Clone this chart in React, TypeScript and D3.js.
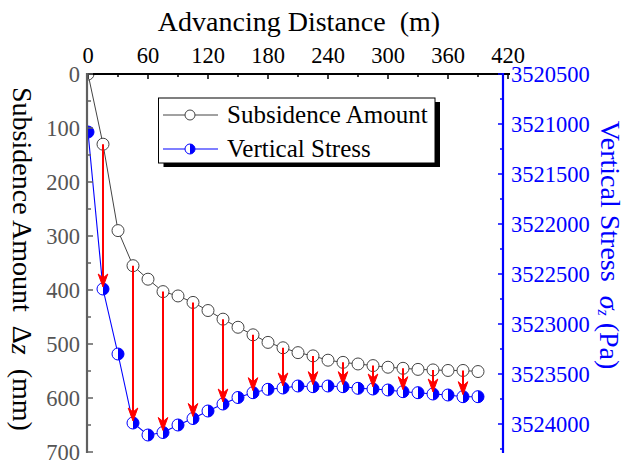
import React from "react";
import * as d3 from "d3";

const distance = [0, 15, 30, 45, 60, 75, 90, 105, 120, 135, 150, 165, 180, 195, 210, 225, 240, 255, 270, 285, 300, 315, 330, 345, 360, 375, 390];
const subsidence = [0, 130, 290, 355, 380, 403, 411, 423, 438, 454, 469, 483, 497, 507, 516, 522, 530, 534, 537, 540, 543, 545, 547, 548, 549, 549, 551];
const stress = [3521080, 3522650, 3523300, 3523990, 3524110, 3524085, 3524010, 3523945, 3523870, 3523800, 3523735, 3523687, 3523653, 3523640, 3523620, 3523627, 3523620, 3523627, 3523643, 3523650, 3523660, 3523677, 3523687, 3523700, 3523710, 3523727, 3523727];
const arrowDistances = [15, 45, 75, 105, 135, 165, 195, 225, 255, 285, 315, 345, 375];
const xTicks = [0, 60, 120, 180, 240, 300, 360, 420];
const leftTicks = [0, 100, 200, 300, 400, 500, 600, 700];
const rightTicks = [3520500, 3521000, 3521500, 3522000, 3522500, 3523000, 3523500, 3524000];
const seriesNames = ["Subsidence Amount", "Vertical Stress"];

const FONT = "'Liberation Serif', 'Times New Roman', serif";
const W = 627;
const H = 462;
const L = 88, R = 508, T = 74, B = 452;
const RIGHT_AXIS_X = 503;

export default function App() {
  const x = d3.scaleLinear().domain([0, 420]).range([L, R]);
  const yL = d3.scaleLinear().domain([0, 700]).range([T, B]);
  const yR = d3.scaleLinear().domain([3520500, 3524280]).range([T, B]);

  const subPts: [number, number][] = distance.map((d, i) => [x(d), yL(subsidence[i])]);
  const strPts: [number, number][] = distance.map((d, i) => [x(d), yR(stress[i])]);
  const line = d3.line();

  const r = 6;
  const halfPath = (cx: number, cy: number, rr: number) =>
    `M${cx},${cy - rr}A${rr},${rr} 0 0 1 ${cx},${cy + rr}Z`;

  const xMinor = d3.range(30, 420, 60);
  const leftMinor = d3.range(50, 700, 100);
  const rightMinor = d3.range(3520750, 3524280, 500);

  const legendX = 158.5, legendY = 98, legendW = 276.5, legendH = 65;

  return (
    <svg width={W} height={H} style={{ position: "absolute", left: 0, top: 0, display: "block", background: "#fff" }} fontFamily={FONT}>
      <defs>
        <clipPath id="plotclip">
          <rect x={L} y={T} width={R - L} height={B - T} />
        </clipPath>
      </defs>
      <rect x={0} y={0} width={W} height={H} fill="#fff" />

      {/* Title */}
      <text x={299} y={31} textAnchor="middle" fontSize={28} fill="#000">
        Advancing Distance{"\u00a0\u00a0"}(m)
      </text>

      {/* series lines */}
      <g clipPath="url(#plotclip)">
        <path d={line(subPts) || ""} fill="none" stroke="#444" strokeWidth={1} />
        <path d={line(strPts) || ""} fill="none" stroke="#0000ff" strokeWidth={1.1} />
        {subPts.map((p, i) => (
          <circle key={"s" + i} cx={p[0]} cy={p[1]} r={r} fill="#fff" stroke="#444" strokeWidth={1} />
        ))}
        {strPts.map((p, i) => (
          <g key={"v" + i}>
            <circle cx={p[0]} cy={p[1]} r={r} fill="#fff" stroke="#0000ff" strokeWidth={1} />
            <path d={halfPath(p[0], p[1], r)} fill="#0000ff" />
          </g>
        ))}
      </g>

      {/* red arrows */}
      {arrowDistances.map((d) => {
        const i = distance.indexOf(d);
        const ax = x(d);
        const y0 = yL(subsidence[i]);
        const y1 = yR(stress[i]) - 2;
        const hl = 13, hw = 4.8, notch = 9;
        return (
          <g key={"a" + d}>
            <line x1={ax} y1={y0} x2={ax} y2={y1 - notch + 1} stroke="#ff0000" strokeWidth={2} />
            <path
              d={`M${ax},${y1}L${ax - hw},${y1 - hl}L${ax},${y1 - notch}L${ax + hw},${y1 - hl}Z`}
              fill="#ff0000"
              stroke="#ff0000"
              strokeWidth={1}
              strokeLinejoin="miter"
            />
          </g>
        );
      })}

      {/* top axis */}
      <line x1={L - 1} y1={T} x2={R + 2} y2={T} stroke="#000" strokeWidth={2} />
      {xTicks.map((t) => (
        <g key={"xt" + t}>
          <line x1={x(t)} y1={T} x2={x(t)} y2={T + 5} stroke="#000" strokeWidth={1.5} />
          <text x={x(t)} y={63} textAnchor="middle" fontSize={22.5} fill="#000">{t}</text>
        </g>
      ))}
      {xMinor.map((t) => (
        <line key={"xm" + t} x1={x(t)} y1={T} x2={x(t)} y2={T + 3} stroke="#000" strokeWidth={1.5} />
      ))}

      {/* left axis */}
      <line x1={L - 1} y1={T - 1} x2={L - 1} y2={B + 1} stroke="#606060" strokeWidth={2.2} />
      {leftTicks.map((t) => (
        <g key={"lt" + t}>
          <line x1={L - 1} y1={yL(t)} x2={L + 5} y2={yL(t)} stroke="#606060" strokeWidth={1.5} />
          <text x={80} y={yL(t)} dy="0.35em" textAnchor="end" fontSize={22.5} fill="#555">{t}</text>
        </g>
      ))}
      {leftMinor.map((t) => (
        <line key={"lm" + t} x1={L - 1} y1={yL(t)} x2={L + 3} y2={yL(t)} stroke="#606060" strokeWidth={1.5} />
      ))}
      <text
        transform={`translate(22,259) rotate(90)`}
        textAnchor="middle"
        dominantBaseline="central"
        fontSize={28}
        fill="#000"
      >
        Subsidence Amount{"\u00a0\u00a0"}Δ<tspan fontStyle="italic">z</tspan>{"\u00a0\u00a0"}(mm)
      </text>

      {/* right axis */}
      <line x1={RIGHT_AXIS_X} y1={T - 1} x2={RIGHT_AXIS_X} y2={B + 1} stroke="#0000ff" strokeWidth={2.2} />
      {rightTicks.map((t) => (
        <g key={"rt" + t}>
          <line x1={RIGHT_AXIS_X} y1={yR(t)} x2={RIGHT_AXIS_X - 5} y2={yR(t)} stroke="#0000ff" strokeWidth={1.5} />
          <text x={511} y={yR(t)} dy="0.35em" textAnchor="start" fontSize={22.5} fill="#0000ff">{t}</text>
        </g>
      ))}
      {rightMinor.map((t) => (
        <line key={"rm" + t} x1={RIGHT_AXIS_X} y1={yR(t)} x2={RIGHT_AXIS_X - 3} y2={yR(t)} stroke="#0000ff" strokeWidth={1.5} />
      ))}
      <text
        transform={`translate(610,245) rotate(90)`}
        textAnchor="middle"
        dominantBaseline="central"
        fontSize={28}
        fill="#0000ff"
      >
        Vertical Stress{"\u00a0\u00a0"}<tspan fontStyle="italic">σ</tspan>
        <tspan fontStyle="italic" fontSize={16} dy={6}>z</tspan>
        <tspan dy={-6}>{"\u00a0"}(Pa)</tspan>
      </text>

      {/* legend */}
      <rect x={legendX + 5} y={legendY + 4} width={legendW} height={legendH} fill="#000" />
      <rect x={legendX} y={legendY} width={legendW} height={legendH} fill="#fff" stroke="#000" strokeWidth={1} />
      <line x1={163} y1={115} x2={218} y2={115} stroke="#444" strokeWidth={1} />
      <circle cx={190} cy={115} r={5} fill="#fff" stroke="#444" strokeWidth={1} />
      <text x={227} y={123} fontSize={25} fill="#000">{seriesNames[0]}</text>
      <line x1={163} y1={149} x2={218} y2={149} stroke="#0000ff" strokeWidth={1.1} />
      <circle cx={190} cy={149} r={5} fill="#fff" stroke="#0000ff" strokeWidth={1} />
      <path d={halfPath(190, 149, 5)} fill="#0000ff" />
      <text x={227} y={157} fontSize={25} fill="#000">{seriesNames[1]}</text>
    </svg>
  );
}
